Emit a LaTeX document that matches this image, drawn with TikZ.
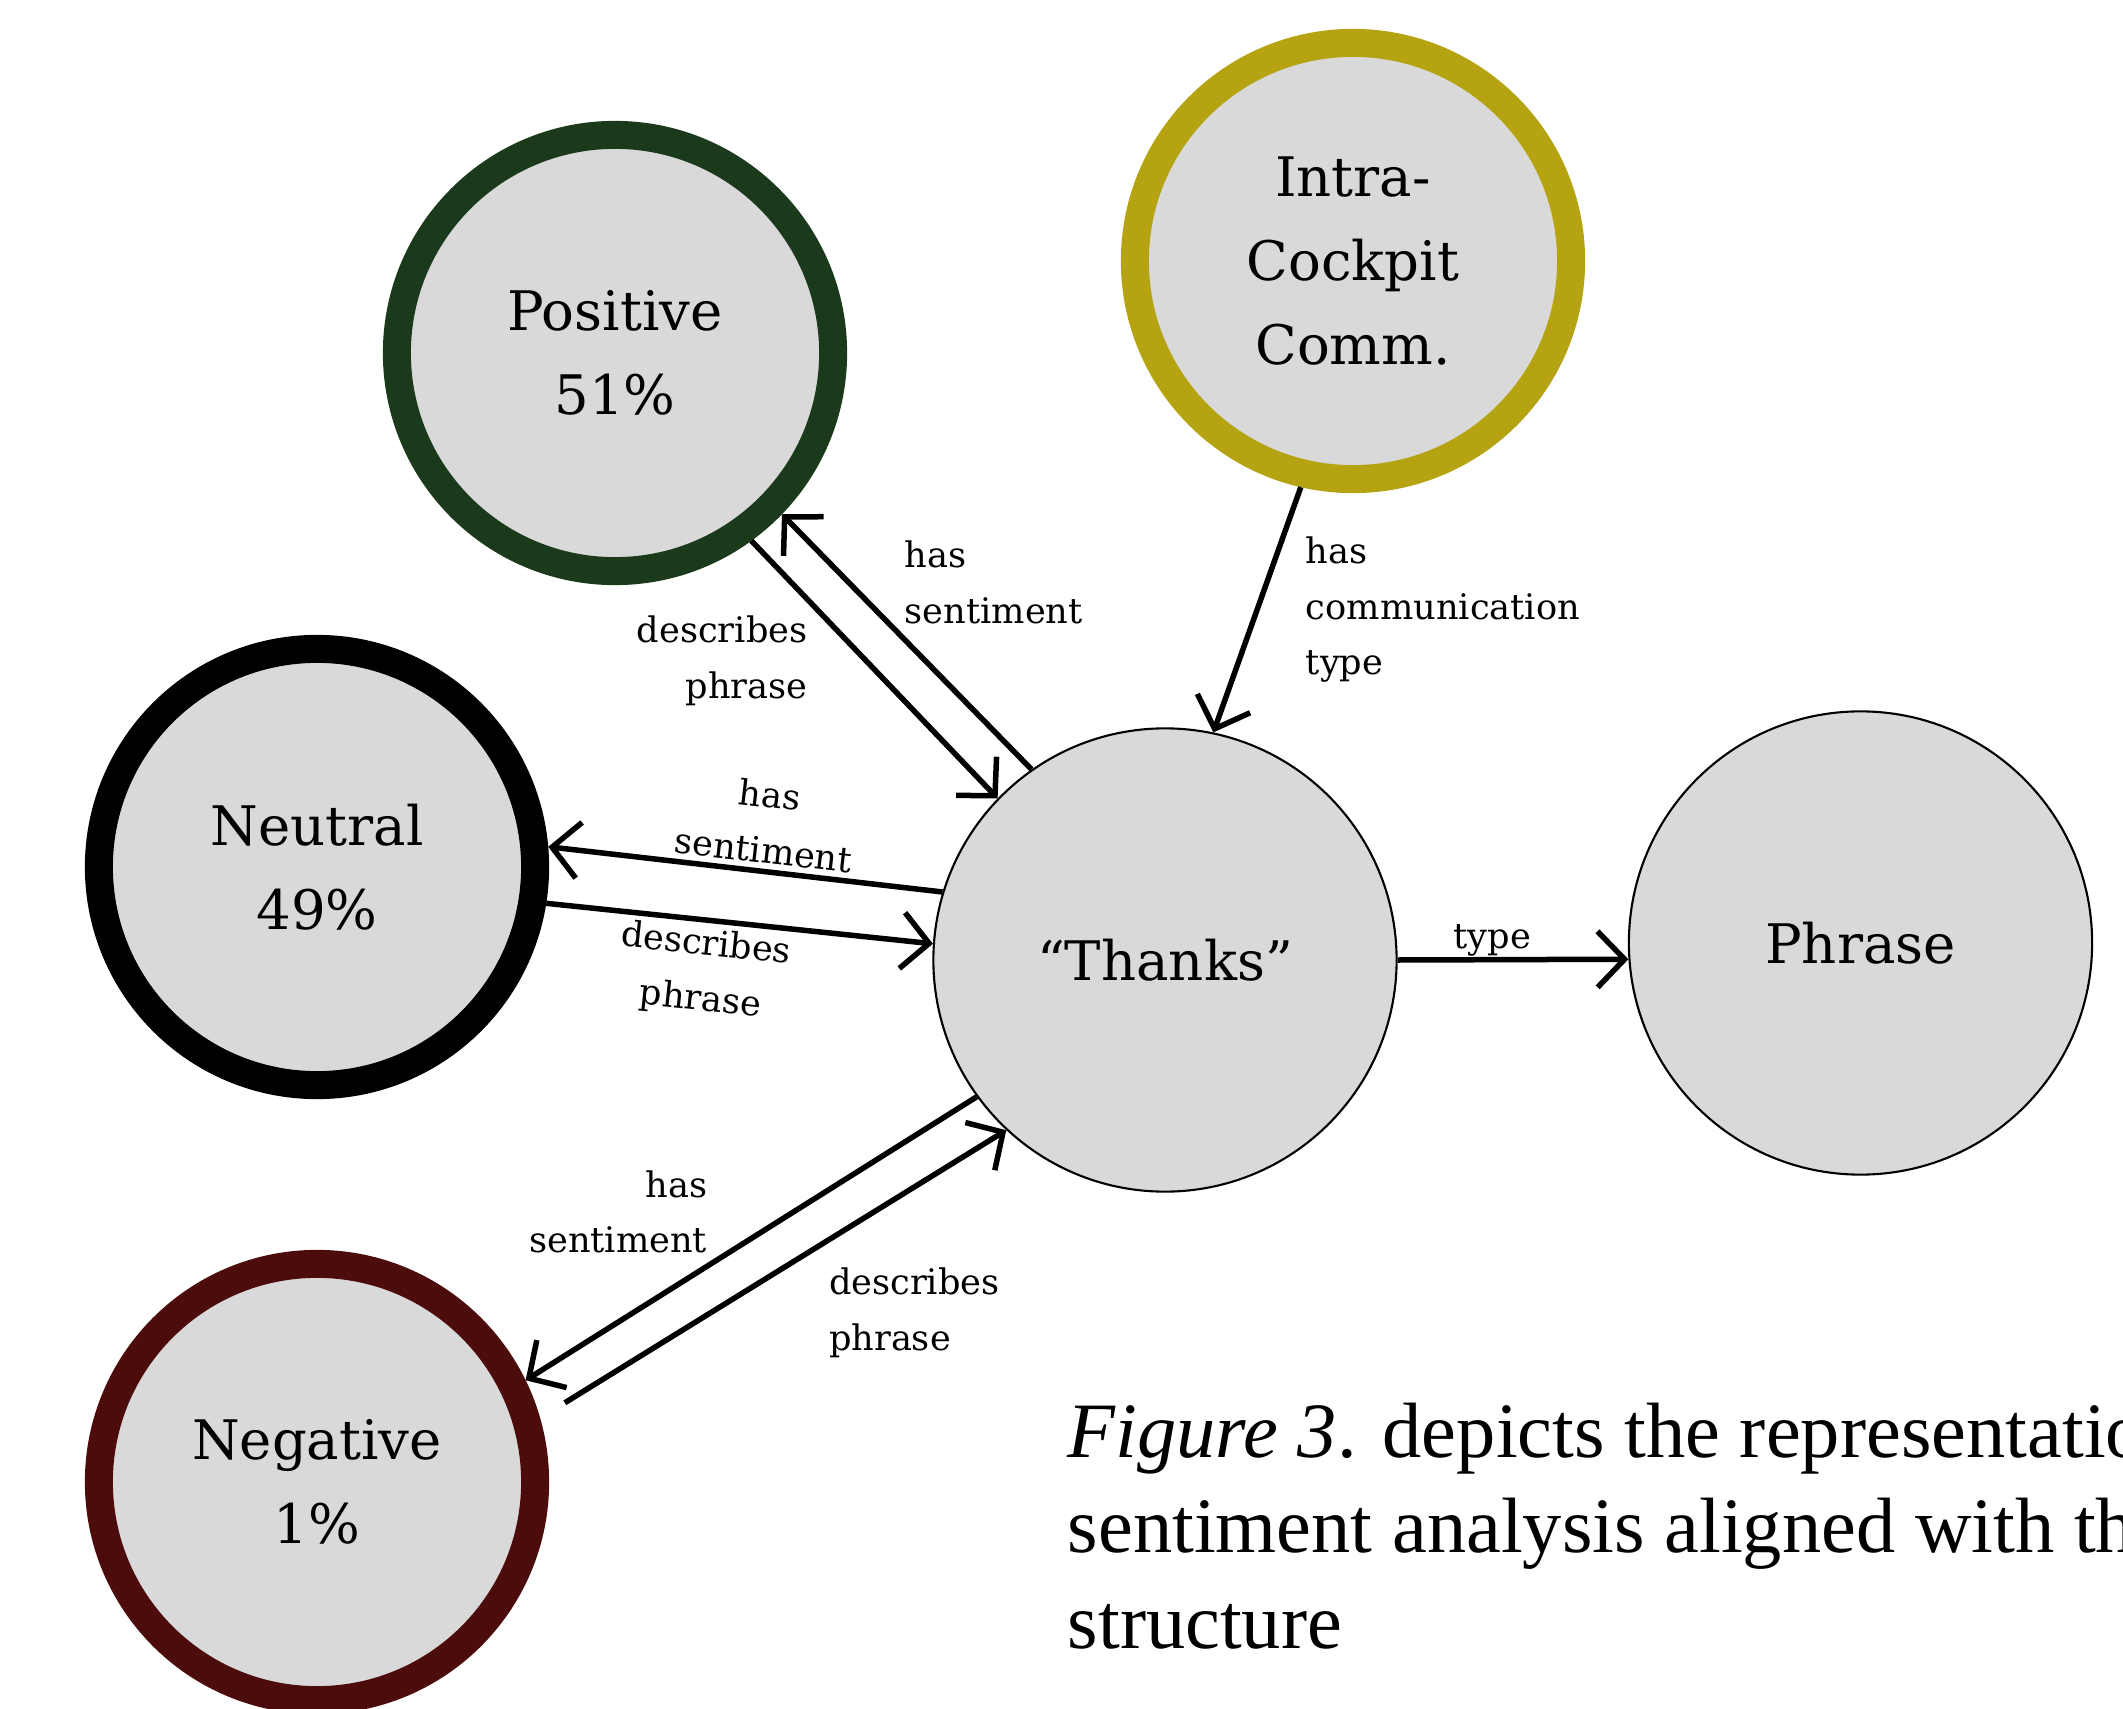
\documentclass[tikz,border=0pt]{standalone}
\usepackage{fontspec}
\setmainfont{DejaVu Serif}
\newfontfamily\capfont{Liberation Serif}
\usepackage{xcolor}
\usetikzlibrary{positioning}
\usetikzlibrary{arrows.meta}

\definecolor{posgreen}{HTML}{1B3A1C}
\definecolor{commolive}{HTML}{B5A312}
\definecolor{negred}{HTML}{4D0C0C}
\definecolor{nodegray}{HTML}{D9D9D9}

\begin{document}
\begin{tikzpicture}[
				x=0.01cm, y=-0.01cm,
				ring/.style={circle, draw, fill=nodegray, line width=0.28cm, minimum size=4.36cm, inner sep=0pt, align=center, font=\fontsize{15.5}{24}\selectfont},
				plain/.style={circle, draw, fill=nodegray, line width=0.6pt, minimum size=4.63cm, inner sep=0pt, align=center, font=\fontsize{15.5}{24}\selectfont},
				arrow/.style={-{Straight Barb[length=0.27cm, width=0.56cm]}, line width=0.055cm},
				edgelabel/.style={inner sep=1.5pt, font=\fontsize{10}{15.8}\selectfont}
			]

			\useasboundingbox (0,0) rectangle (2123,1709);
			\clip (0,0) rectangle (2123,1709);

			\node[ring, draw=posgreen] (positive) at (615,353) {Positive\\51\%};
			\node[ring, draw=commolive] (comm) at (1353,261) {Intra-\\Cockpit\\Comm.};
			\node[ring, draw=black] (neutral) at (317,867) {Neutral\\49\%};
			\node[ring, draw=negred] (negative) at (317,1482) {Negative\\1\%};
			\node[plain] (thanks) at (1165,960) {“Thanks”};
			\node[plain, right=2.3cm of thanks, yshift=0.17cm] (phrase) {Phrase};

			\draw[arrow] (positive.-54) -- (thanks.136) node[edgelabel, pos=0.26, anchor=north east, align=right] {describes\\phrase};
			\draw[arrow] (thanks.125) -- (positive.-44) node[edgelabel, pos=0.54, anchor=south west, align=left] {has\\sentiment};
			\draw[arrow] (comm.-103) -- (thanks.78) node[edgelabel, pos=0.17, anchor=north west, xshift=0.12cm, align=left] {has\\communication\\type};
			\draw[arrow] (thanks.163) -- (neutral.5) node[edgelabel, pos=0.46, sloped, above, align=center] {has\\sentiment};
			\draw[arrow] (neutral.-9) -- (thanks.176) node[edgelabel, pos=0.42, sloped, below, align=center] {describes\\phrase};
			\draw[arrow] (thanks.216) -- (negative.26) node[edgelabel, pos=0.58, anchor=south east, align=right] {has\\sentiment};
			\draw[arrow, shorten <=0.29cm] (negative.16) -- (thanks.-133) node[edgelabel, pos=0.55, anchor=north west, xshift=0.245cm, align=left] {describes\\phrase};
			\draw[arrow] (thanks.east) -- (phrase.184) node[edgelabel, pos=0.41, anchor=base, yshift=0.11cm] {type};

			\node[anchor=north west, inner sep=0pt, align=left, font=\capfont\fontsize{22.3}{27.2}\selectfont] (caption) at (1067,1402) {\textit{Figure 3}. depicts the representation\\sentiment analysis aligned with the\\structure};

		\end{tikzpicture}
\end{document}
